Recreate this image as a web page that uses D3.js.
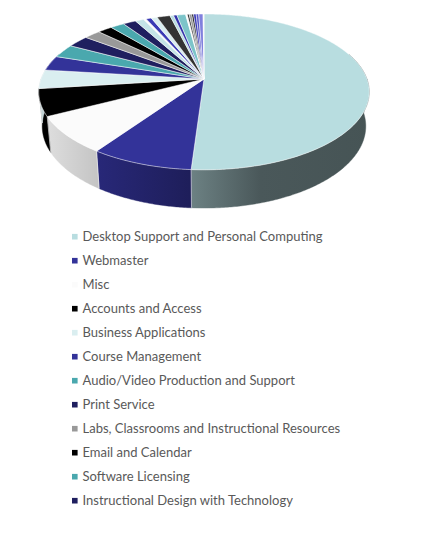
<!DOCTYPE html>
<html>
<head>
<meta charset="utf-8">
<script src="https://cdn.jsdelivr.net/npm/d3@7"></script>
<style>
  body { margin: 0; background: #fff; }
  svg { display: block; }
</style>
</head>
<body>
<svg id="chart" width="431" height="538"></svg>
<script>
// named slices (they are the ones the legend shows)
var categories = [
  "Desktop Support and Personal Computing",
  "Webmaster",
  "Misc",
  "Accounts and Access",
  "Business Applications",
  "Course Management",
  "Audio/Video Production and Support",
  "Print Service",
  "Labs, Classrooms and Instructional Resources",
  "Email and Calendar",
  "Software Licensing",
  "Instructional Design with Technology"
];
var values = [51.1, 8.6, 7.8, 5.6, 3.9, 3.1, 2.8, 2.5, 1.9, 1.7, 1.6, 1.5];
// the thin slices at the back, legend cut off before them
var otherValues = [1.0, 0.3, 0.6, 0.7, 1.5, 0.4, 0.4, 1.0, 0.2, 0.2, 0.3, 0.2, 0.3, 0.3, 0.5, 0.1];

var colors = [
  "#b8dde0", "#333399", "#fbfbfb", "#000000", "#daeef0", "#333399",
  "#4aa8ae", "#1f1f5f", "#999999", "#000000", "#4aa8ae", "#1f1f5f",
  "#c4e4e7", "#fbfbfb", "#3a3ab4", "#daeef0", "#333333", "#b8dde0",
  "#3333aa", "#7cc4c9", "#fbfbfb", "#111111", "#999999", "#000000",
  "#3a3ab4", "#5555c8", "#8080dd", "#fbfbfb"
];

var svg = d3.select("#chart");

var slices = values.concat(otherValues).map(function (v, i) {
  return { name: categories[i] || "", value: v, idx: i };
});

var pie = d3.pie().sort(null).value(function (d) { return d.value; });
var arcs = pie(slices);

var color = d3.scaleOrdinal().domain(d3.range(slices.length)).range(colors);

// 3D view of the disc
var cx = 204, cy = 79, s = 872, D = 5.35;
var phi = Math.asin(0.465), sp = Math.sin(phi), cp = Math.cos(phi);
var thick = 0.24;

function proj(a, down) {
  var px = Math.sin(a), pz = Math.cos(a), py = -down;
  var yc = py * cp + pz * sp;
  var dep = D - py * sp + pz * cp;
  return [cx + s * px / dep, cy - s * yc / dep];
}

function arcPts(a0, a1, down) {
  var n = Math.max(2, Math.ceil(Math.abs(a1 - a0) / 0.01));
  return d3.range(n + 1).map(function (k) { return proj(a0 + (a1 - a0) * k / n, down); });
}

var line = d3.line();

// wall shading by x
var lightX = [38, 95, 190, 260, 372];
var lightF = [0.9, 0.79, 0.59, 0.4, 0.38];
var defs = svg.append("defs");
arcs.forEach(function (d, i) {
  var base = d3.rgb(color(i));
  var g = defs.append("linearGradient")
    .attr("id", "wall" + i)
    .attr("gradientUnits", "userSpaceOnUse")
    .attr("x1", 38).attr("x2", 372).attr("y1", 0).attr("y2", 0);
  lightX.forEach(function (x, k) {
    var f = lightF[k];
    g.append("stop")
      .attr("offset", (x - 38) / (372 - 38))
      .attr("stop-color", d3.rgb(base.r * f, base.g * f, base.b * f).formatHex());
  });
});

var m = 0.35, H = Math.PI / 2;
var backParts = [[H - m, H], [3 * H, 3 * H + m]];
var frontParts = [[H, 3 * H]];

function wallPieces(parts) {
  var out = [];
  arcs.forEach(function (d, i) {
    parts.forEach(function (p) {
      var b0 = Math.max(d.startAngle, p[0]), b1 = Math.min(d.endAngle, p[1]);
      if (b1 > b0) out.push({ i: i, b0: b0, b1: b1 });
    });
  });
  return out;
}

var gWall = svg.append("g");
[backParts, frontParts].forEach(function (parts) {
  gWall.selectAll(null)
    .data(wallPieces(parts))
    .enter()
    .append("path")
    .attr("d", function (w) {
      return line(arcPts(w.b0, w.b1, 0).concat(arcPts(w.b1, w.b0, thick))) + "Z";
    })
    .attr("fill", function (w) { return "url(#wall" + w.i + ")"; })
    .attr("stroke", function (w) { return "url(#wall" + w.i + ")"; })
    .attr("stroke-width", 0.4);
});

// seams on the front wall
gWall.selectAll("line.seam")
  .data(arcs.filter(function (d) { return d.startAngle > H && d.startAngle < 3 * H; }))
  .enter()
  .append("line")
  .attr("class", "seam")
  .attr("x1", function (d) { return proj(d.startAngle, 0)[0]; })
  .attr("y1", function (d) { return proj(d.startAngle, 0)[1]; })
  .attr("x2", function (d) { return proj(d.startAngle, thick)[0]; })
  .attr("y2", function (d) { return proj(d.startAngle, thick)[1]; })
  .attr("stroke", "#ffffff")
  .attr("stroke-opacity", 0.8)
  .attr("stroke-width", 0.7);

// top of the pie
svg.append("g")
  .selectAll("path")
  .data(arcs)
  .enter()
  .append("path")
  .attr("d", function (d) {
    return line([[cx, cy]].concat(arcPts(d.startAngle, d.endAngle, 0))) + "Z";
  })
  .attr("fill", function (d, i) { return color(i); })
  .attr("stroke", "#ffffff")
  .attr("stroke-width", 0.5)
  .attr("stroke-linejoin", "round");

// legend
var legend = svg.append("g")
  .selectAll("g")
  .data(categories)
  .enter()
  .append("g")
  .attr("transform", function (d, i) { return "translate(72," + (236.7 + i * 24) + ")"; });

legend.append("rect")
  .attr("x", 0).attr("y", -2.8)
  .attr("width", 5.6).attr("height", 5.6)
  .attr("fill", function (d, i) { return color(i); });

legend.append("text")
  .attr("x", 10.5)
  .attr("dy", "0.35em")
  .attr("font-family", "Lato, 'Open Sans', sans-serif")
  .attr("font-size", 13)
  .attr("fill", "#595959")
  .text(function (d) { return d; });
</script>
</body>
</html>
